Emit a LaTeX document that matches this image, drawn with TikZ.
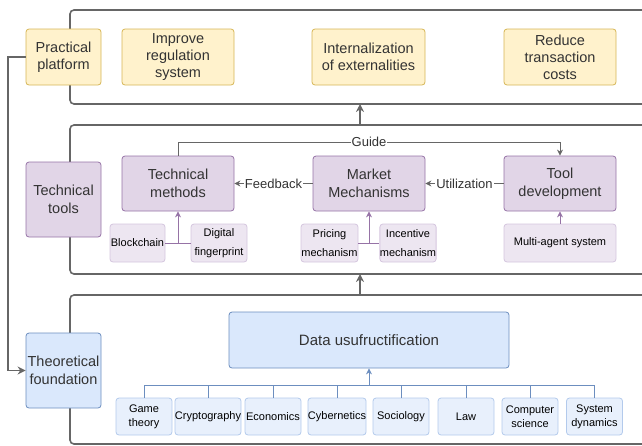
\documentclass[tikz,border=0pt]{standalone}
\usepackage{fontspec}
\setmainfont{Liberation Sans}
\usetikzlibrary{arrows.meta}
\definecolor{ylf}{HTML}{FFF2CC}\definecolor{yls}{HTML}{D6B656}
\definecolor{puf}{HTML}{E1D5E7}\definecolor{pus}{HTML}{9673A6}
\definecolor{plf}{HTML}{EDE6F1}\definecolor{pls}{HTML}{D5C6DE}
\definecolor{blf}{HTML}{DAE8FC}\definecolor{bls}{HTML}{6C8EBF}
\definecolor{bbf}{HTML}{E8F0FC}\definecolor{bbs}{HTML}{B3CAEC}
\definecolor{gry}{HTML}{666666}\definecolor{txt}{HTML}{333333}
\tikzset{
  box/.style={draw, rounded corners=3pt, line width=0.8pt, align=center, inner sep=0pt, text=txt, font=\fontsize{14.5}{18}\selectfont},
  ybox/.style={box, fill=ylf, draw=yls, font=\fontsize{14.5}{17}\selectfont},
  pbox/.style={box, fill=puf, draw=pus},
  plbox/.style={box, fill=plf, draw=pls, text=black, font=\fontsize{11}{19}\selectfont},
  bbox/.style={box, fill=blf, draw=bls},
  blbox/.style={box, fill=bbf, draw=bbs, text=black, font=\fontsize{11}{14}\selectfont},
  panel/.style={draw=gry, line width=1.6pt, rounded corners=4pt},
  garrow/.style={draw=gry, line width=1.6pt, -{Stealth[length=8pt,width=8pt]}},
  lbl/.style={fill=white, inner sep=1pt, text=txt, font=\fontsize{13}{15}\selectfont},
  thinarr/.style={draw=gry, line width=0.9pt, -{Stealth[length=6pt,width=6pt]}},
  parr/.style={draw=pus, line width=0.9pt, -{Stealth[length=6pt,width=6pt]}},
  barr/.style={draw=bls, line width=0.9pt, -{Stealth[length=6pt,width=6pt]}},
}
\begin{document}
\begin{tikzpicture}[x=1pt,y=-1pt]
\useasboundingbox (0,0) rectangle (642,445);
\clip (0,0) rectangle (642,445);
% panels
\draw[panel] (70,10) rectangle (660,104);
\draw[panel] (70,125) rectangle (660,274);
\draw[panel] (70,295) rectangle (660,444);
\coordinate (p1b) at (360,104);
\coordinate (p2t) at (360,125);
\coordinate (p2b) at (360,274);
\coordinate (p3t) at (360,295);
\draw[garrow] (p2t) -- (p1b);
\draw[garrow] (p3t) -- (p2b);
% top row
\node[ybox, minimum width=75pt, minimum height=56pt] (pp) at (63.5,57) {Practical\\platform};
\node[ybox, minimum width=112pt, minimum height=56pt] (irs) at (178,57) {Improve\\regulation\\system};
\node[ybox, minimum width=113pt, minimum height=56pt] (ioe) at (368.5,57) {Internalization\\of externalities};
\node[ybox, minimum width=112pt, minimum height=56pt] (rtc) at (560,57) {Reduce\\transaction\\costs};
% middle row
\node[pbox, minimum width=75pt, minimum height=75pt] (tt) at (63.5,199.5) {Technical\\tools};
\node[pbox, minimum width=112pt, minimum height=55pt] (tm) at (178,183.5) {Technical\\methods};
\node[pbox, minimum width=112pt, minimum height=55pt] (mm) at (369,183.5) {Market\\Mechanisms};
\node[pbox, minimum width=112pt, minimum height=55pt] (td) at (560,183.5) {Tool\\development};
\node[plbox, minimum width=55pt, minimum height=38pt] (bc) at (137.5,243) {Blockchain};
\node[plbox, minimum width=56pt, minimum height=38pt] (df) at (219,243) {Digital\\fingerprint};
\node[plbox, minimum width=57pt, minimum height=38pt] (pm) at (329.5,243) {Pricing\\mechanism};
\node[plbox, minimum width=56pt, minimum height=38pt] (im) at (408,243) {Incentive\\mechanism};
\node[plbox, minimum width=112pt, minimum height=38pt] (mas) at (560,243) {Multi-agent system};
% middle connectors
\draw[thinarr] (tm.north) |- (178,142) -- node[lbl, pos=0.5] {Guide} (560,142) -- (td.north);
\draw[thinarr] (mm.west) -- node[lbl] {Feedback} (tm.east);
\draw[thinarr] (td.west) -- node[lbl] {Utilization} (mm.east);
\coordinate (j1) at (178,243);
\coordinate (j2) at (369,243);
\draw[draw=pus, line width=0.9pt] (bc.east) -- (df.west);
\draw[draw=pus, line width=0.9pt] (pm.east) -- (im.west);
\draw[parr] (j1) -- (tm.south);
\draw[parr] (j2) -- (mm.south);
\draw[parr] (mas.north) -- (td.south);
% bottom row
\node[bbox, minimum width=75pt, minimum height=75pt] (tf) at (63.5,370.5) {Theoretical\\foundation};
\node[bbox, minimum width=280pt, minimum height=56pt, font=\fontsize{15}{17}\selectfont] (du) at (369,340) {Data usufructification};
\foreach \n/\x/\t in {gt/144/{Game\\theory}, cr/208/{Cryptography}, ec/273/{Economics}, cy/337/{Cybernetics}, so/401/{Sociology}, lw/466/{Law}, cs/530/{Computer\\science}, sd/594.5/{System\\dynamics}}
  \node[blbox, minimum width=56pt, minimum height=37pt] (\n) at (\x,416.5) {\t};
\coordinate (bj) at (369,385);
\draw[draw=bls, line width=0.9pt] (gt.north) |- (sd.north |- bj) -- (sd.north);
\foreach \n in {cr,ec,cy,so,lw,cs}
  \draw[draw=bls, line width=0.9pt] (\n.north) -- (\n.north |- bj);
\draw[barr] (bj) -- (du.south);
% left connector
\draw[garrow] (pp.west) -- (8,57) |- (tf.west);
\end{tikzpicture}
\end{document}
